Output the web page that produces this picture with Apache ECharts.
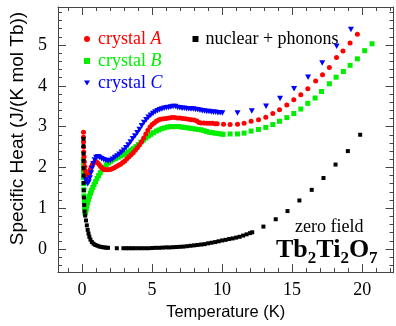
<!DOCTYPE html>
<html>
<head>
<meta charset="utf-8">
<script src="https://cdn.jsdelivr.net/npm/echarts@6/dist/echarts.min.js"></script>
<style>html,body{margin:0;padding:0;background:#fff}#c{width:396px;height:326px}</style>
</head>
<body>
<div id="c"></div>
<script>
// ---- data ----
const seriesNames = ['crystal A', 'crystal B', 'crystal C', 'nuclear + phonons'];
const xTickLabels = [0, 5, 10, 15, 20];
const yTickLabels = [0, 1, 2, 3, 4, 5];

const crystalA = [
  [0.1,2.86],[0.1,2.74],[0.1,2.62],[0.11,2.5],[0.12,2.38],[0.14,2.26],[0.16,2.14],[0.19,2.02],[0.23,1.92],[0.28,1.84],
  [0.34,1.79],[0.4,1.78],[0.46,1.81],[0.52,1.87],[0.58,1.94],[0.65,2.01],[0.73,2.07],[0.82,2.11],[0.92,2.14],[1.02,2.14],
  [1.12,2.11],[1.22,2.07],[1.32,2.02],[1.44,1.98],[1.56,1.95],[1.7,1.94],[1.84,1.94],[2.0,1.95],[2.15,1.97],[2.3,1.99],
  [2.45,2.02],[2.6,2.05],[2.75,2.08],[2.9,2.12],[3.05,2.16],[3.2,2.21],[3.35,2.26],[3.5,2.31],[3.65,2.36],[3.8,2.42],
  [3.95,2.48],[4.1,2.55],[4.25,2.63],[4.4,2.72],[4.55,2.82],[4.7,2.91],[4.85,2.99],[5.0,3.05],[5.15,3.09],[5.3,3.13],
  [5.45,3.16],[5.6,3.18],[5.8,3.19],[6.0,3.2],[6.2,3.21],[6.4,3.22],[6.6,3.22],[6.8,3.21],[7.0,3.21],[7.2,3.2],
  [7.4,3.19],[7.6,3.18],[7.8,3.17],[8.0,3.16],[8.2,3.14],[8.35,3.1],[8.5,3.09],[8.7,3.09],[8.9,3.08],[9.1,3.08],
  [9.3,3.08],[9.5,3.07],[9.65,3.07],
  [10.1,3.06],[10.57,3.05],[11.1,3.06],[11.57,3.08],[12.07,3.13],[12.6,3.17],[13.12,3.23],[13.62,3.32],[14.1,3.41],[14.62,3.53],
  [15.12,3.66],[15.62,3.78],[16.12,3.93],[16.68,4.12],[17.17,4.27],[17.66,4.45],[18.17,4.69],[18.63,4.85],[19.14,5.05],[19.66,5.26]
];
const crystalB = [
  [0.1,2.2],[0.1,2.05],[0.1,1.9],[0.11,1.75],[0.12,1.6],[0.13,1.45],[0.14,1.3],[0.16,1.15],[0.18,1.0],[0.21,0.88],
  [0.25,0.9],[0.3,0.98],[0.35,1.06],[0.4,1.14],[0.46,1.22],[0.52,1.29],[0.6,1.37],[0.68,1.44],[0.77,1.51],[0.86,1.58],
  [0.96,1.65],[1.07,1.73],[1.18,1.8],[1.3,1.87],[1.43,1.94],[1.57,2.0],[1.72,2.06],[1.88,2.11],[2.05,2.15],[2.22,2.19],
  [2.4,2.22],[2.58,2.25],[2.76,2.28],[2.94,2.31],[3.12,2.34],[3.3,2.38],[3.48,2.42],[3.66,2.46],[3.84,2.51],[4.02,2.56],
  [4.2,2.62],[4.38,2.67],[4.56,2.72],[4.74,2.77],[4.92,2.81],[5.1,2.85],[5.3,2.89],[5.5,2.92],[5.7,2.95],[5.9,2.97],
  [6.1,2.99],[6.3,3.0],[6.5,3.0],[6.7,3.0],[6.9,3.0],[7.1,2.99],[7.3,2.98],[7.5,2.97],[7.7,2.96],[7.9,2.95],
  [8.1,2.94],[8.3,2.93],[8.5,2.92],[8.7,2.9],[8.9,2.88],[9.1,2.86],[9.3,2.85],[9.5,2.84],[9.7,2.83],[9.9,2.82],[10.07,2.81],
  [10.57,2.82],[11.1,2.82],[11.57,2.84],[12.07,2.89],[12.6,2.93],[13.12,2.98],[13.62,3.05],[14.1,3.13],[14.62,3.22],[15.12,3.32],
  [15.62,3.43],[16.12,3.57],[16.64,3.7],[17.1,3.86],[17.66,4.05],[18.14,4.21],[18.66,4.35],[19.14,4.5],[19.66,4.66],[20.18,4.86],[20.71,5.03]
];
const crystalC = [
  [0.25,1.7],[0.32,1.64],[0.4,1.6],[0.48,1.64],[0.56,1.74],[0.64,1.86],[0.72,1.98],[0.8,2.09],[0.9,2.18],[1.0,2.24],
  [1.13,2.26],[1.26,2.24],[1.4,2.21],[1.55,2.19],[1.7,2.17],[1.86,2.16],[2.02,2.17],[2.18,2.2],[2.34,2.24],[2.5,2.28],
  [2.66,2.32],[2.82,2.37],[2.98,2.42],[3.14,2.48],[3.3,2.55],[3.46,2.62],[3.62,2.7],[3.78,2.77],[3.94,2.85],[4.1,2.93],
  [4.26,3.02],[4.42,3.1],[4.58,3.17],[4.74,3.23],[4.9,3.28],[5.06,3.32],[5.22,3.36],[5.38,3.39],[5.54,3.41],[5.7,3.43],
  [5.86,3.45],[6.02,3.46],[6.18,3.47],[6.34,3.48],[6.5,3.49],[6.66,3.49],[6.82,3.47],[6.98,3.46],[7.14,3.45],[7.3,3.45],
  [7.46,3.44],[7.62,3.44],[7.78,3.43],[7.94,3.43],[8.1,3.42],[8.26,3.41],[8.42,3.4],[8.58,3.39],[8.74,3.38],[8.9,3.37],
  [9.06,3.37],[9.22,3.36],[9.38,3.35],[9.54,3.35],[9.7,3.34],[9.86,3.34],[10.02,3.33],
  [11.1,3.33],[12.12,3.38],[13.14,3.5],[14.14,3.69],[15.14,3.93],[16.14,4.21],[17.15,4.56],[18.18,4.97],[19.2,5.38]
];
const nuclearPhonons = [
  [0.1,2.7],[0.1,2.52],[0.1,2.34],[0.1,2.16],[0.1,1.98],[0.1,1.8],[0.11,1.62],[0.12,1.44],[0.13,1.26],[0.15,1.08],
  [0.18,0.92],[0.22,0.82],[0.28,0.7],[0.34,0.58],[0.4,0.47],[0.46,0.38],[0.52,0.3],[0.6,0.23],[0.7,0.17],[0.82,0.13],
  [0.95,0.1],[1.1,0.08],[1.25,0.06],[1.4,0.05],[1.55,0.04],[1.7,0.035],[1.85,0.03],[2.48,0.02],
  [2.95,0.02],[3.15,0.02],[3.35,0.02],[3.55,0.02],[3.75,0.02],[4.0,0.02],[4.25,0.02],[4.5,0.02],[4.75,0.02],[5.0,0.025],
  [5.25,0.03],[5.5,0.03],[5.75,0.035],[6.0,0.04],[6.25,0.04],[6.5,0.045],[6.75,0.05],[7.0,0.055],[7.25,0.06],[7.5,0.07],
  [7.75,0.08],[8.0,0.09],[8.25,0.1],[8.5,0.11],[8.75,0.12],[9.0,0.14],[9.25,0.155],[9.5,0.17],[9.75,0.19],[10.0,0.21],
  [10.25,0.225],[10.5,0.245],[10.75,0.26],[11.0,0.28],[11.25,0.3],[11.5,0.33],[11.75,0.36],[12.0,0.39],[12.15,0.41],
  [12.95,0.55],[13.83,0.73],[14.67,0.93],[15.52,1.19],[16.4,1.45],[17.24,1.74],[18.1,2.07],[18.98,2.4],[19.86,2.8]
];
const xMinorTicks = [-1,0,1,2,3,4,5,6,7,8,9,10,11,12,13,14,15,16,17,18,19,20,21,22];
const yMinorTicks = [-0.4,-0.2,0,0.2,0.4,0.6,0.8,1,1.2,1.4,1.6,1.8,2,2.2,2.4,2.6,2.8,3,3.2,3.4,3.6,3.8,4,4.2,4.4,4.6,4.8,5,5.2,5.4,5.6,5.8];

// ---- chart ----
const XMIN = -1.72, XMAX = 22.24, YMIN = -0.565, YMAX = 5.93;
const AX = '#444';
const SERIF = '"Liberation Serif", "Times New Roman", serif';
const SANS = '"Liberation Sans", Arial, sans-serif';
const triangle = 'path://M0,0L10,0L5,8.66Z';

function xAx(pos, ticks, len, showLine, labels, extra) {
  return Object.assign({
    type: 'value', position: pos, min: XMIN, max: XMAX,
    axisLine: { show: showLine, onZero: false, lineStyle: { color: AX, width: 1 } },
    axisTick: { show: true, inside: true, length: len, customValues: ticks, lineStyle: { color: AX, width: 1 } },
    axisLabel: labels ? { show: true, customValues: ticks, margin: 9, color: '#000', fontFamily: SERIF, fontSize: 18 } : { show: false },
    splitLine: { show: false }
  }, extra || {});
}
function yAx(pos, ticks, len, showLine, labels, extra) {
  return Object.assign({
    type: 'value', position: pos, min: YMIN, max: YMAX,
    axisLine: { show: showLine, onZero: false, lineStyle: { color: AX, width: 1 } },
    axisTick: { show: true, inside: true, length: len, customValues: ticks, lineStyle: { color: AX, width: 1 } },
    axisLabel: labels ? { show: true, customValues: ticks, margin: 11, color: '#000', fontFamily: SERIF, fontSize: 18 } : { show: false },
    splitLine: { show: false }
  }, extra || {});
}

const chart = echarts.init(document.getElementById('c'), null, { renderer: 'canvas' });
const legendRich = {
  r: { color: '#ff0000', fontFamily: SERIF, fontSize: 18, lineHeight: 18, padding: [0, 0, 0, 3] },
  ri: { color: '#ff0000', fontFamily: SERIF, fontSize: 18, lineHeight: 18, fontStyle: 'italic' },
  g: { color: '#00ee00', fontFamily: SERIF, fontSize: 18, lineHeight: 18, padding: [0, 0, 0, 3] },
  gi: { color: '#00ee00', fontFamily: SERIF, fontSize: 18, lineHeight: 18, fontStyle: 'italic' },
  b: { color: '#0000ff', fontFamily: SERIF, fontSize: 18, lineHeight: 18, padding: [0, 0, 0, 3] },
  bi: { color: '#0000ff', fontFamily: SERIF, fontSize: 18, lineHeight: 18, fontStyle: 'italic' },
  k: { color: '#000', fontFamily: SERIF, fontSize: 18, lineHeight: 18, padding: [0, 0, 0, 2] }
};
const legendKey = { 'crystal A': ['r', 'ri'], 'crystal B': ['g', 'gi'], 'crystal C': ['b', 'bi'] };

chart.setOption({
  animation: false,
  backgroundColor: '#fff',
  grid: { left: 58, right: 2.5, top: 7, bottom: 48.5, containLabel: false },
  legend: [
    {
      data: seriesNames.slice(0, 3), orient: 'vertical', left: 79, top: 25,
      itemWidth: 6, itemHeight: 6, itemGap: 4, selectedMode: false,
      formatter: function (name) {
        const k = legendKey[name]; const p = name.split(' ');
        return '{' + k[0] + '|' + p[0] + ' }{' + k[1] + '|' + p[1] + '}';
      },
      textStyle: { rich: legendRich }
    },
    {
      data: [seriesNames[3]], orient: 'vertical', left: 187.5, top: 25,
      itemWidth: 6, itemHeight: 6, selectedMode: false,
      formatter: function (name) { return '{k|' + name + '}'; },
      textStyle: { rich: legendRich }
    }
  ],
  xAxis: [
    xAx('bottom', xTickLabels, 8, true, true, {
      name: 'Temperature (K)', nameLocation: 'middle', nameGap: 31,
      nameTextStyle: { fontFamily: SANS, fontSize: 16.5, color: '#000' }
    }),
    xAx('bottom', xMinorTicks, 4, false, false),
    xAx('top', xTickLabels, 8, true, false),
    xAx('top', xMinorTicks, 4, false, false)
  ],
  yAxis: [
    yAx('left', yTickLabels, 8, true, true, {
      name: 'Specific Heat (J/(K mol Tb))', nameLocation: 'middle', nameGap: 30, nameRotate: 90,
      nameTextStyle: { fontFamily: SANS, fontSize: 19, color: '#000', padding: [0, 0, 0, 22] }
    }),
    yAx('left', yMinorTicks, 4, false, false),
    yAx('right', yTickLabels, 8, true, false),
    yAx('right', yMinorTicks, 4, false, false)
  ],
  series: [
    { name: 'crystal B', type: 'scatter', data: crystalB, symbol: 'rect', symbolSize: 5,
      itemStyle: { color: '#00ee00', opacity: 1 }, z: 2 },
    { name: 'crystal A', type: 'scatter', data: crystalA, symbol: 'circle', symbolSize: 5,
      itemStyle: { color: '#ff0000', opacity: 1 }, z: 3 },
    { name: 'crystal C', type: 'scatter', data: crystalC, symbol: triangle, symbolSize: [6, 5.5],
      itemStyle: { color: '#0000ff', opacity: 1 }, z: 4 },
    { name: 'nuclear + phonons', type: 'scatter', data: nuclearPhonons, symbol: 'rect', symbolSize: 4,
      itemStyle: { color: '#000', opacity: 1 }, z: 5 }
  ],
  graphic: [
    { type: 'text', left: 295, top: 218, z: 100,
      style: { text: 'zero field', font: '18px ' + SERIF, fill: '#000' } },
    { type: 'text', left: 276, top: 237, z: 100,
      style: {
        text: '{m|Tb}{s|2}{m|Ti}{s|2}{m|O}{s|7}',
        rich: {
          m: { fontSize: 26, fontWeight: 'bold', fontFamily: SERIF, lineHeight: 26, verticalAlign: 'bottom', padding: [0, 0, 4, 0], fill: '#000' },
          s: { fontSize: 17, fontWeight: 'bold', fontFamily: SERIF, lineHeight: 17, verticalAlign: 'bottom', fill: '#000' }
        }
      } }
  ]
});
</script>
</body>
</html>
